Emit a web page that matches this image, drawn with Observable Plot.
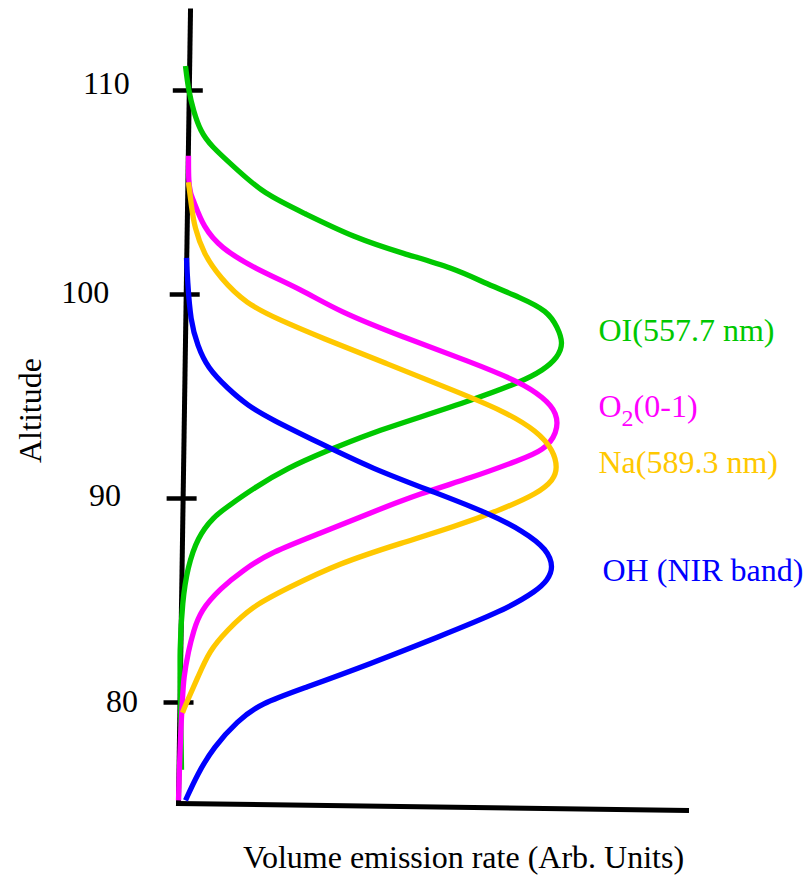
<!DOCTYPE html>
<html>
<head>
<meta charset="utf-8">
<script src="https://cdn.jsdelivr.net/npm/d3@7"></script>
<script src="https://cdn.jsdelivr.net/npm/@observablehq/plot@0.6"></script>
<style>
  html, body { margin: 0; padding: 0; background: #fff; }
  svg { display: block; }
</style>
</head>
<body>
<div id="chart"></div>
<script>
// ---------------- DATA ----------------
const seriesNames = ["OI(557.7 nm)", "O₂(0-1)", "Na(589.3 nm)", "OH (NIR band)"];
const seriesColors = ["#00c800", "#ff00ff", "#ffc800", "#0000ff"];

// Volume emission rate (arbitrary units) and altitude, read along each drawn profile
const oiRate = [7, 10, 15, 22, 32, 59, 85, 125, 175, 225, 275, 309, 342, 369, 379, 385, 379, 365, 342, 292, 242, 192, 149, 109, 75, 49, 35, 19, 9, 4, 1, 2, 3];
const oiAlt  = [111.2, 110.0, 109.0, 108.0, 107.3, 106.1, 104.95, 104.0, 102.8, 102.0, 101.3, 100.5, 99.85, 99.2, 98.4, 97.6, 96.9, 96.3, 95.7, 94.8, 94.0, 93.2, 92.35, 91.5, 90.5, 89.6, 89.1, 88.1, 86.6, 85.0, 82.6, 80.1, 76.7];

const o2Rate = [10, 10, 12, 15, 25, 42, 75, 125, 159, 225, 292, 342, 365, 379, 379, 365, 342, 292, 242, 192, 142, 92, 65, 42, 22, 15, 10, 5, 4, 2, 0];
const o2Alt  = [106.8, 105.5, 104.95, 104.6, 103.3, 102.3, 101.3, 100.2, 99.2, 97.9, 96.7, 95.7, 94.95, 94.2, 93.2, 92.35, 91.9, 91.0, 90.25, 89.3, 88.3, 87.35, 86.5, 85.6, 84.5, 83.5, 82.55, 81.2, 80.1, 78.5, 75.2];

const naRate = [10, 13, 16, 25, 42, 67, 102, 142, 209, 275, 325, 359, 375, 379, 375, 359, 325, 275, 225, 159, 109, 73, 48, 31, 19, 9, 4];
const naAlt  = [105.5, 104.3, 103.3, 102.0, 100.8, 99.56, 98.73, 97.9, 96.6, 95.3, 94.3, 93.3, 92.35, 91.5, 90.9, 90.25, 89.5, 88.6, 87.85, 86.8, 85.6, 84.7, 83.5, 82.55, 81.2, 80.1, 79.5];

const ohRate = [8, 9, 12, 19, 29, 49, 69, 92, 142, 192, 259, 309, 345, 369, 375, 369, 359, 325, 259, 192, 125, 82, 59, 35, 19, 7];
const ohAlt  = [101.8, 100.7, 98.7, 97.5, 96.4, 95.4, 94.56, 93.9, 92.7, 91.5, 90.25, 89.3, 88.4, 87.5, 86.6, 86.0, 85.5, 84.5, 83.2, 81.9, 80.7, 79.95, 79.1, 77.8, 76.5, 75.2];

const tickValues = [110, 100, 90, 80];
const tickLabels = ["110", "100", "90", "80"];
const xLabel = "Volume emission rate (Arb. Units)";
const yLabel = "Altitude";

// ---------------- BUILD ----------------
const rates = [oiRate, o2Rate, naRate, ohRate];
const alts = [oiAlt, o2Alt, naAlt, ohAlt];
const rows = [];
seriesNames.forEach((name, i) => {
  rates[i].forEach((r, j) => rows.push({series: name, rate: r, alt: alts[i][j]}));
});

// hand-drawn, slightly leaning axes
const altMin = 75.05, altTop = 113.9, rateMax = 508;
const lean = 12 / (altTop - altMin);
const axisX = a => lean * (a - altMin);
const yAxisLine = [{rate: axisX(altMin), alt: altMin}, {rate: axisX(altTop), alt: altTop}];
const xAxisLine = [{rate: 0, alt: altMin}, {rate: rateMax, alt: 74.71}];

// series labels placed at each profile's peak
const peaks = seriesNames.map((name, i) => {
  const k = rates[i].indexOf(d3.max(rates[i]));
  return {series: name, alt: alts[i][k]};
});
const labelDx = [0, 0, 0, 4];
const labelDy = [-2, 4, 5, 13];
const tickDx = [-83, -101, -78, -58];
const tickDy = [3, 8, 7, 9];

const font = "'Liberation Serif', 'Times New Roman', serif";

const chart = Plot.plot({
  width: 806,
  height: 876,
  marginLeft: 178,
  marginRight: 120,
  marginTop: 8.4,
  marginBottom: 61.8,
  x: {domain: [0, rateMax], axis: null},
  y: {domain: [74.5, 114], axis: null},
  color: {domain: seriesNames, range: seriesColors},
  marks: [
    Plot.ruleY(tickValues, {y: d => d, x1: d => axisX(d) - 16, x2: d => axisX(d) + 14, stroke: "black", strokeWidth: 4.5}),
    Plot.line(yAxisLine, {x: "rate", y: "alt", stroke: "black", strokeWidth: 5, strokeLinecap: "square"}),
    Plot.line(xAxisLine, {x: "rate", y: "alt", stroke: "black", strokeWidth: 5, strokeLinecap: "square"}),
    Plot.line(rows, {x: "rate", y: "alt", z: "series", stroke: "series", strokeWidth: 5.3, curve: "basis", strokeLinecap: "butt"}),
    Plot.text(tickValues, {
      x: (d, i) => axisX(d) + tickDx[i], y: d => d, text: (d, i) => tickLabels[i],
      textAnchor: "middle", lineAnchor: "bottom",
      fontFamily: font, fontSize: 32, fill: "black"
    }),
    Plot.text(peaks, {
      x: 420, y: "alt", text: "series", fill: "series",
      textAnchor: "start", lineAnchor: "bottom",
      fontFamily: font, fontSize: 32
    }),
    Plot.text([xLabel], {
      x: 285, frameAnchor: "bottom", text: d => d, textAnchor: "middle", lineAnchor: "bottom",
      dy: 53, fontFamily: font, fontSize: 32, fill: "black"
    }),
    Plot.text([yLabel], {
      x: -148, y: 94.31, text: d => d, rotate: -90, textAnchor: "middle", lineAnchor: "middle",
      fontFamily: font, fontSize: 32, fill: "black"
    })
  ]
});

document.getElementById("chart").appendChild(chart);

// per-label nudges (hand placement in the original) and the O2 subscript
const svg = d3.select(chart);
svg.selectAll("text").each(function() {
  const t = d3.select(this);
  const txt = this.textContent;
  const ti = tickLabels.indexOf(txt);
  if (ti >= 0) {
    t.attr("transform", (t.attr("transform") || "") + ` translate(0,${tickDy[ti]})`);
  }
  const si = seriesNames.indexOf(txt);
  if (si >= 0) {
    t.attr("transform", (t.attr("transform") || "") + ` translate(${labelDx[si]},${labelDy[si]})`);
  }
  if (txt === "O₂(0-1)") {
    t.text(null);
    t.append("tspan").text("O");
    t.append("tspan").attr("font-size", 24).attr("dy", 9).text("2");
    t.append("tspan").attr("font-size", 32).attr("dy", -9).text("(0-1)");
  }
});
</script>
</body>
</html>
